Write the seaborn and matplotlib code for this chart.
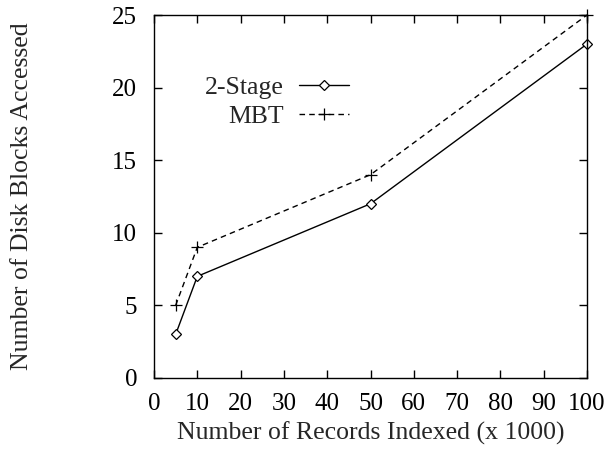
import matplotlib
matplotlib.use("Agg")
import matplotlib.pyplot as plt
import seaborn as sns
import pandas as pd

records = [5, 10, 50, 100]
two_stage = [3, 7, 12, 23]
mbt = [5, 9, 14, 25]
x_ticks = [0, 10, 20, 30, 40, 50, 60, 70, 80, 90, 100]
y_ticks = [0, 5, 10, 15, 20, 25]

sns.set_style("ticks")
plt.rcParams['font.family'] = 'serif'
plt.rcParams['font.serif'] = ['Liberation Serif', 'Times New Roman', 'DejaVu Serif']
FS = 18.5
plt.rcParams['font.size'] = FS

fig = plt.figure(figsize=(6.1, 4.53), dpi=100)
ax = fig.add_axes([154/610, 1 - 378/453, (587-154)/610, (378-15)/453])

df1 = pd.DataFrame({"x": records, "y": two_stage})
df2 = pd.DataFrame({"x": records, "y": mbt})
sns.lineplot(data=df1, x="x", y="y", ax=ax, color="black", lw=1, marker="D",
             markersize=5, markerfacecolor="white", markeredgecolor="black",
             markeredgewidth=0.9, label="2-Stage", clip_on=False)
sns.lineplot(data=df2, x="x", y="y", ax=ax, color="black", lw=1, linestyle=(0, (4, 3)),
             marker="+", markersize=8, markeredgecolor="black", markeredgewidth=0.9,
             label="MBT", clip_on=False)

ax.set_xlim(0, 100)
ax.set_ylim(0, 25)
ax.set_xticks(x_ticks)
ax.set_yticks(y_ticks)
ax.tick_params(direction="in", length=6, width=1, top=True, right=True, labelsize=18, colors="black")
ax.tick_params(axis="y", pad=12)
ax.tick_params(axis="x", pad=11)
for s in ax.spines.values():
    s.set_linewidth(1)
    s.set_color("black")
ax.set_xlabel("Number of Records Indexed (x 1000)", fontsize=FS, labelpad=0)
ax.set_ylabel("Number of Disk Blocks Accessed", fontsize=FS)
ax.yaxis.set_label_coords((22 - 154) / 433, 0.5)
ax.xaxis.set_label_coords(0.5, -(433 - 378) / 363)
ax.xaxis.label.set_va("center")
ax.yaxis.label.set_va("center")

leg = ax.legend(loc="upper right", bbox_to_anchor=((349 - 154) / 433, (378 - 76) / 363),
                frameon=False, markerfirst=False, handlelength=1.95, handletextpad=0.6,
                labelspacing=0.22, borderpad=0, borderaxespad=0, fontsize=FS)
leg._legend_box.align = "right"

fig.savefig("out.png", dpi=100)
